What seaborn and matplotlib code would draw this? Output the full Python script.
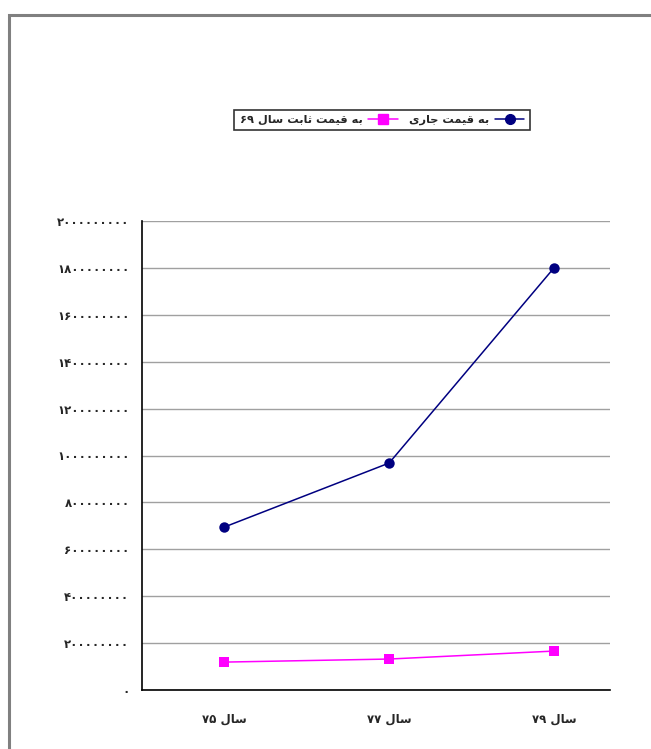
import matplotlib
matplotlib.use("Agg")
import matplotlib.pyplot as plt
import seaborn as sns
import pandas as pd
from matplotlib.lines import Line2D
from matplotlib.patches import Rectangle

# Data (visual-order, presentation-form Persian text because matplotlib has no shaping)
years = ["۷۵ ﻝﺎﺳ", "۷۷ ﻝﺎﺳ", "۷۹ ﻝﺎﺳ"]
current_prices = [6.95e8, 9.68e8, 1.80e9]
constant_prices = [1.19e8, 1.32e8, 1.66e8]
label_current = "ﻯﺭﺎﺟ ﺖﻤﻴﻗ ﻪﺑ"
label_constant = "۶۹ ﻝﺎﺳ ﺖﺑﺎﺛ ﺖﻤﻴﻗ ﻪﺑ"
ytick_values = [0, 2e8, 4e8, 6e8, 8e8, 1e9, 1.2e9, 1.4e9, 1.6e9, 1.8e9, 2e9]
ytick_labels = ["۰", "۲۰۰۰۰۰۰۰۰", "۴۰۰۰۰۰۰۰۰", "۶۰۰۰۰۰۰۰۰", "۸۰۰۰۰۰۰۰۰",
                "۱۰۰۰۰۰۰۰۰۰", "۱۲۰۰۰۰۰۰۰۰", "۱۴۰۰۰۰۰۰۰۰", "۱۶۰۰۰۰۰۰۰۰",
                "۱۸۰۰۰۰۰۰۰۰", "۲۰۰۰۰۰۰۰۰۰"]

df = pd.DataFrame({
    "year": years * 2,
    "value": current_prices + constant_prices,
    "series": [label_current] * 3 + [label_constant] * 3,
})

sns.set_style("white")
plt.rcParams["font.family"] = ["DejaVu Sans"]

colors = {label_current: "#000080", label_constant: "#FF00FF"}
markers = {label_current: "o", label_constant: "s"}

fig = plt.figure(figsize=(6.51, 7.49), dpi=100)
fig.patch.set_facecolor("white")
ax = fig.add_axes([142 / 651, 59 / 749, 468 / 651, 469 / 749])

sns.lineplot(data=df, x="year", y="value", hue="series", style="series",
             palette=colors, markers=markers, dashes=False, markersize=7.5,
             linewidth=1.1, markeredgewidth=0, ax=ax, legend=False, sort=False)

ax.set_xlim(-0.497, 2.34)
ax.set_ylim(0, 2e9)
ax.set_yticks(ytick_values)
ax.set_yticklabels(ytick_labels, fontsize=8.5, fontweight="bold")
ax.set_xticks([0, 1, 2])
ax.set_xticklabels(years, fontsize=8.5, fontweight="bold")
ax.set_xticks([-0.5, 0.5, 1.5], minor=True)
ax.tick_params(axis="x", which="major", length=0, pad=16)
ax.tick_params(axis="x", which="minor", length=5, width=1, color="black", direction="out")
ax.tick_params(axis="y", length=5, width=1, color="black", direction="out", pad=4)
ax.set_xlabel("")
ax.set_ylabel("")
ax.grid(axis="y", color="#a0a0a0", linewidth=1)
ax.grid(axis="x", visible=False)
ax.set_axisbelow(True)
for s in ["top", "right"]:
    ax.spines[s].set_visible(False)
for s in ["left", "bottom"]:
    ax.spines[s].set_color("black")
    ax.spines[s].set_linewidth(1.2)

handles = [
    Line2D([], [], color=colors[label_constant], marker="s", markersize=7, linewidth=1.1),
    Line2D([], [], color=colors[label_current], marker="o", markersize=7, linewidth=1.1),
]
leg = fig.legend(handles, [label_constant, label_current], ncol=2, markerfirst=False,
                 loc="center", bbox_to_anchor=(382 / 651, 1 - 120 / 749),
                 prop={"size": 8.2, "weight": "bold"}, frameon=True, fancybox=False,
                 edgecolor="black", handlelength=2.6, columnspacing=1.0,
                 handletextpad=0.5, borderpad=0.45)
leg.get_frame().set_linewidth(1.2)

fig.patches.append(Rectangle((9 / 651, -0.1), 1.2, 1.1 - 15 / 749, transform=fig.transFigure,
                             fill=False, edgecolor="#808080", linewidth=2.2))

fig.savefig("out.png", dpi=100)
